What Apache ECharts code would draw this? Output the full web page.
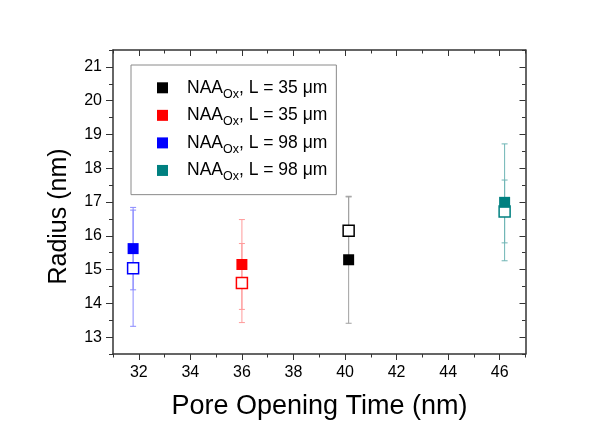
<!DOCTYPE html>
<html>
<head>
<meta charset="utf-8">
<script src="https://cdn.jsdelivr.net/npm/echarts@6/dist/echarts.min.js"></script>
<style>
  html, body { margin: 0; padding: 0; background: #fff; }
  #chart { width: 597px; height: 421px; }
</style>
</head>
<body>
<div id="chart"></div>
<script>
// Pore opening time for each sample (x position of its markers)
const sampleKeys = ['k35', 'r35', 'b98', 't98'];
const sampleLengths = ['35', '35', '98', '98'];
const sampleColors = ['#000000', '#ff0000', '#0000ff', '#008080'];
const barColors = ['#a0a0a0', '#ff9a9a', '#8a8aff', '#6fb5b5'];
const openingTime = [40.14, 36.0, 31.78, 46.19];

// Filled markers: radius and its error
const filledRadius = [15.29, 15.15, 15.62, 16.99];
const filledError = [1.88, 1.33, 1.22, 1.73];

// Open markers: radius and its error
const openRadius = [16.15, 14.60, 15.04, 16.72];
const openError = [1.00, 1.17, 1.72, 0.93];

// Axis ticks
const xMajorTicks = [32, 34, 36, 38, 40, 42, 44, 46];
const xMinorTicks = [31, 33, 35, 37, 39, 41, 43, 45, 47];
const yMajorTicks = [13, 14, 15, 16, 17, 18, 19, 20, 21];
const yMinorTicks = [12.5, 13.5, 14.5, 15.5, 16.5, 17.5, 18.5, 19.5, 20.5, 21.5];

const FONT = '"Liberation Sans", Arial, sans-serif';
const AXIS_COLOR = '#333333';
const X_MIN = 31, X_MAX = 47, Y_MIN = 12.5, Y_MAX = 21.5;

function xAxisDef(position, ticks, len, inside, showLine, showLabel) {
  return {
    type: 'value', position: position, min: X_MIN, max: X_MAX, gridIndex: 0,
    axisLine: { show: showLine, onZero: false, lineStyle: { color: AXIS_COLOR, width: 1.5 } },
    axisTick: { show: true, inside: inside, length: len, customValues: ticks,
                lineStyle: { color: AXIS_COLOR, width: 1 } },
    axisLabel: { show: showLabel, customValues: ticks, margin: 11,
                 fontFamily: FONT, fontSize: 16, color: '#000' },
    splitLine: { show: false }
  };
}
function yAxisDef(position, ticks, len, inside, showLine, showLabel) {
  return {
    type: 'value', position: position, min: Y_MIN, max: Y_MAX, gridIndex: 0,
    axisLine: { show: showLine, onZero: false, lineStyle: { color: AXIS_COLOR, width: 1.5 } },
    axisTick: { show: true, inside: inside, length: len, customValues: ticks,
                lineStyle: { color: AXIS_COLOR, width: 1 } },
    axisLabel: { show: showLabel, customValues: ticks, margin: 11,
                 fontFamily: FONT, fontSize: 16, color: '#000' },
    splitLine: { show: false }
  };
}

function errorBarSeries(values, errors, i) {
  const color = barColors[i];
  return {
    type: 'custom',
    xAxisIndex: 0, yAxisIndex: 0,
    z: 1,
    silent: true,
    encode: { x: 0, y: [1, 2] },
    data: [[openingTime[i], values[i] - errors[i], values[i] + errors[i]]],
    renderItem: function (params, api) {
      const x = api.value(0);
      const lo = api.coord([x, api.value(1)]);
      const hi = api.coord([x, api.value(2)]);
      const cap = 3;
      const st = { stroke: color, lineWidth: 1 };
      return {
        type: 'group',
        children: [
          { type: 'line', shape: { x1: lo[0], y1: lo[1], x2: hi[0], y2: hi[1] }, style: st },
          { type: 'line', shape: { x1: lo[0] - cap, y1: lo[1], x2: lo[0] + cap, y2: lo[1] }, style: st },
          { type: 'line', shape: { x1: hi[0] - cap, y1: hi[1], x2: hi[0] + cap, y2: hi[1] }, style: st }
        ]
      };
    }
  };
}

const series = [];
sampleKeys.forEach(function (k, i) {
  series.push(errorBarSeries(filledRadius, filledError, i));
  series.push(errorBarSeries(openRadius, openError, i));
});
sampleKeys.forEach(function (k, i) {
  series.push({
    type: 'scatter', name: 'open-' + k, xAxisIndex: 0, yAxisIndex: 0, z: 2,
    symbol: 'rect', symbolSize: 11,
    itemStyle: { color: '#ffffff', borderColor: sampleColors[i], borderWidth: 1.5, opacity: 1 },
    data: [[openingTime[i], openRadius[i]]]
  });
});
sampleKeys.forEach(function (k, i) {
  series.push({
    type: 'scatter', name: k, xAxisIndex: 0, yAxisIndex: 0, z: 3,
    symbol: 'rect', symbolSize: 11,
    itemStyle: { color: sampleColors[i], opacity: 1 },
    data: [[openingTime[i], filledRadius[i]]]
  });
});

const chart = echarts.init(document.getElementById('chart'), null, { renderer: 'canvas' });
chart.setOption({
  backgroundColor: '#ffffff',
  animation: false,
  grid: { left: 113, top: 50, width: 412.5, height: 304, containLabel: false },
  xAxis: [
    xAxisDef('bottom', xMajorTicks, 6, false, true, true),
    xAxisDef('bottom', xMinorTicks, 3.5, false, false, false),
    xAxisDef('top', xMajorTicks, 6, true, true, false),
    xAxisDef('top', xMinorTicks, 3.5, true, false, false)
  ],
  yAxis: [
    yAxisDef('left', yMajorTicks, 7, false, true, true),
    yAxisDef('left', yMinorTicks, 4, false, false, false),
    yAxisDef('right', yMajorTicks, 6, true, true, false),
    yAxisDef('right', yMinorTicks, 3.5, true, false, false)
  ],
  legend: {
    show: true,
    orient: 'vertical',
    left: 131, top: 65,
    padding: [13.8, 9, 11.2, 26],
    itemGap: 5.55,
    itemWidth: 11, itemHeight: 11,
    icon: 'rect',
    selectedMode: false,
    borderColor: '#8a8a8a', borderWidth: 1,
    backgroundColor: '#ffffff',
    data: sampleKeys,
    formatter: function (name) {
      const i = sampleKeys.indexOf(name);
      return '{n|NAA}{s|Ox}{a|, L = ' + sampleLengths[i] + ' μm}';
    },
    textStyle: {
      fontFamily: FONT, fontSize: 17.5, color: '#000',
      rich: {
        n: { fontFamily: FONT, fontSize: 17.5, color: '#000', lineHeight: 26, padding: [0, 0, 0, 14] },
        s: { fontFamily: FONT, fontSize: 12.5, color: '#000', lineHeight: 13, verticalAlign: 'bottom' },
        a: { fontFamily: FONT, fontSize: 17.5, color: '#000', lineHeight: 26 }
      }
    }
  },
  graphic: [
    {
      type: 'text', x: 319.5, y: 407, silent: true,
      style: { text: 'Pore Opening Time (nm)', fontFamily: FONT, fontSize: 27,
               fill: '#000', textAlign: 'center', textVerticalAlign: 'middle' }
    },
    {
      type: 'text', x: 59, y: 216.5, rotation: Math.PI / 2, silent: true,
      style: { text: 'Radius (nm)', fontFamily: FONT, fontSize: 25,
               fill: '#000', textAlign: 'center', textVerticalAlign: 'middle' }
    }
  ],
  series: series
});
</script>
</body>
</html>
